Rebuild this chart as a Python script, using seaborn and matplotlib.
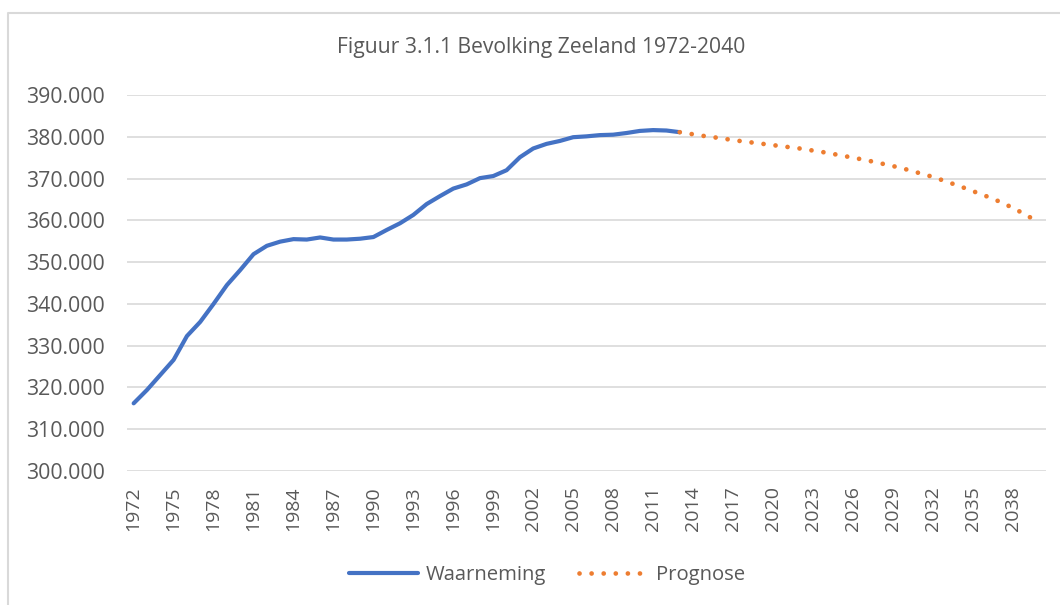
import numpy as np
import pandas as pd
import matplotlib.pyplot as plt
import seaborn as sns
from matplotlib.lines import Line2D
from matplotlib.ticker import FuncFormatter

years_obs = list(range(1972, 2014))
waarneming = [316200, 319400, 323000, 326600, 332300, 335700, 340000, 344500, 348100, 351900,
              353900, 354900, 355500, 355400, 355900, 355400, 355400, 355600, 356000, 357700,
              359300, 361300, 363900, 365800, 367600, 368600, 370100, 370600, 372000, 375100,
              377200, 378300, 379000, 379900, 380100, 380400, 380500, 380900, 381400, 381600,
              381500, 381100]
years_prog = list(range(2013, 2041))
prognose = [381100, 380600, 380100, 379700, 379200, 378800, 378400, 378000, 377600, 377200,
            376700, 376200, 375600, 375000, 374400, 373700, 373000, 372200, 371300, 370400,
            369300, 368200, 367000, 365800, 364500, 363000, 361300, 359400]
tick_years = list(range(1972, 2039, 3))
y_ticks = list(range(300000, 390001, 10000))

blauw = '#4472C4'
oranje = '#ED7D31'
grijs = '#595959'

sns.set_style('white')
plt.rcParams['font.family'] = ['Open Sans', 'DejaVu Sans']

fig = plt.figure(figsize=(10.6, 6.05), dpi=100)
ax = fig.add_axes([127/1060, 1-471/605, (1046-127)/1060, (471-95)/605])

sns.lineplot(x=years_obs, y=waarneming, ax=ax, color=blauw, lw=3, label='Waarneming')
sns.lineplot(x=years_prog, y=prognose, ax=ax, color=oranje, lw=3.4,
             linestyle=(0, (0.01, 2.55)), dash_capstyle='round', label='Prognose')

ax.set_xlim(1971.5, 2040.5)
ax.set_ylim(300000, 390000)
ax.set_xticks(tick_years)
ax.set_xticklabels([str(j) for j in tick_years], rotation=90)
ax.set_yticks(y_ticks)
ax.yaxis.set_major_formatter(FuncFormatter(lambda v, p: f'{int(v):,}'.replace(',', '.')))
ax.tick_params(axis='both', length=0, labelsize=14, colors=grijs)
ax.tick_params(axis='y', labelsize=15.3, pad=16)
ax.tick_params(axis='x', pad=11)
ax.grid(axis='y', color='#D9D9D9', lw=1.2)
ax.set_axisbelow(True)
sns.despine(ax=ax, left=True, bottom=True)
ax.set_xlabel('')
ax.set_ylabel('')

fig.text(0.511, 1-47/605, 'Figuur 3.1.1 Bevolking Zeeland 1972-2040', ha='center', va='center',
         fontsize=15.2, color=grijs)

ax.legend(loc='center', bbox_to_anchor=(0.516, 1-575/605), bbox_transform=fig.transFigure,
          ncol=2, frameon=False, fontsize=14.6, labelcolor=grijs, handlelength=3.4,
          handletextpad=0.4, columnspacing=1.6)

fig.add_artist(Line2D([8/1060, 8/1060, 1], [0, 1-13/605, 1-13/605], transform=fig.transFigure,
                      color='#D9D9D9', lw=1.5))

plt.savefig('out.png', dpi=100)
